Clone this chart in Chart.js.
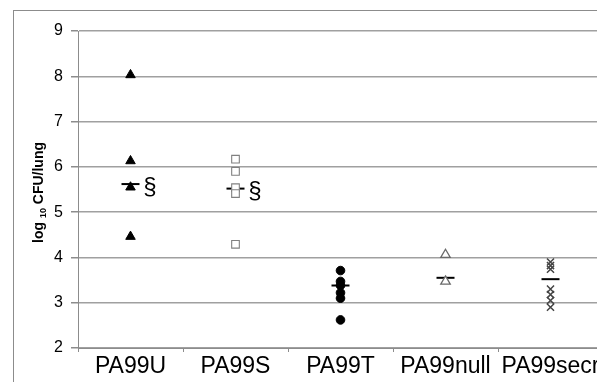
<!DOCTYPE html>
<html>
<head>
<meta charset="utf-8">
<script src="https://cdn.jsdelivr.net/npm/chart.js@4"></script>
<style>
html,body{margin:0;padding:0;background:#fff;overflow:hidden;width:597px;height:382px;}
canvas{display:block;}
</style>
</head>
<body>
<canvas id="c" width="625" height="382" style="width:625px;height:382px"></canvas>
<script>
// ---- data ----
const categories = ['PA99U', 'PA99S', 'PA99T', 'PA99null', 'PA99secr'];
const pa99U = [8.03, 6.13, 5.55, 4.46];
const pa99S = [6.17, 5.90, 5.54, 5.41, 4.29];
const pa99T = [3.71, 3.47, 3.38, 3.22, 3.10, 2.62];
const pa99null = [4.06, 3.47];
const pa99secr = [3.90, 3.82, 3.74, 3.30, 3.18, 3.05, 2.90];
const means = [5.62, 5.52, 3.38, 3.55, 3.52];
const notes = ['§', '§', '', '', ''];
const yTicks = [2, 3, 4, 5, 6, 7, 8, 9];
const yTitleParts = ['log ', '10', ' CFU/lung'];

const FONT = '"Liberation Sans", Arial, sans-serif';
const pts = (cat, arr) => arr.map(v => ({x: cat, y: v}));

const borderPlugin = {
  id: 'outerBorder',
  beforeDraw(chart) {
    const ctx = chart.ctx;
    ctx.save();
    ctx.strokeStyle = '#8c8c8c';
    ctx.lineWidth = 1;
    ctx.strokeRect(13.5, 10.5, 600, 420);
    ctx.restore();
  }
};

// y-axis title with a real subscript, centred on the y scale
const yTitlePlugin = {
  id: 'yTitle',
  afterDraw(chart) {
    const ys = chart.scales.y;
    const ctx = chart.ctx;
    const big = 'bold 14px ' + FONT, small = 'bold 9px ' + FONT;
    ctx.save();
    ctx.font = big;
    const w0 = ctx.measureText(yTitleParts[0]).width;
    const w2 = ctx.measureText(yTitleParts[2]).width;
    ctx.font = small;
    const w1 = ctx.measureText(yTitleParts[1]).width;
    const total = w0 + w1 + w2;
    const cy = (ys.top + ys.bottom) / 2 + 3;
    ctx.translate(43, cy);
    ctx.rotate(-Math.PI / 2);
    ctx.fillStyle = '#000';
    ctx.textBaseline = 'alphabetic';
    ctx.textAlign = 'left';
    let x = -total / 2;
    ctx.font = big; ctx.fillText(yTitleParts[0], x, 0); x += w0;
    ctx.font = small; ctx.fillText(yTitleParts[1], x, 3); x += w1;
    ctx.font = big; ctx.fillText(yTitleParts[2], x, 0);
    ctx.restore();
  }
};

const notesPlugin = {
  id: 'notes',
  afterDatasetsDraw(chart) {
    const ctx = chart.ctx;
    const xs = chart.scales.x, ys = chart.scales.y;
    ctx.save();
    ctx.fillStyle = '#000';
    ctx.font = '24px ' + FONT;
    ctx.textAlign = 'center';
    ctx.textBaseline = 'middle';
    notes.forEach((t, i) => {
      if (!t) return;
      ctx.fillText(t, xs.getPixelForValue(i) + 19.5, ys.getPixelForValue(means[i]) + 3);
    });
    ctx.restore();
  }
};

new Chart(document.getElementById('c'), {
  type: 'line',
  data: {
    labels: categories,
    datasets: [
      {data: pts(categories[0], pa99U), showLine: false, pointStyle: 'triangle', pointRadius: 5.5,
       backgroundColor: '#000', borderColor: '#000', borderWidth: 1},
      {data: pts(categories[1], pa99S), showLine: false, pointStyle: 'rect', pointRadius: 5.4,
       backgroundColor: '#fff', borderColor: '#808080', borderWidth: 1.1},
      {data: pts(categories[2], pa99T), showLine: false, pointStyle: 'circle', pointRadius: 4.3,
       backgroundColor: '#000', borderColor: '#000', borderWidth: 1},
      {data: pts(categories[3], pa99null), showLine: false, pointStyle: 'triangle', pointRadius: 5.5,
       backgroundColor: '#fff', borderColor: '#6a6a6a', borderWidth: 1.3},
      {data: pts(categories[4], pa99secr), showLine: false, pointStyle: 'crossRot', pointRadius: 5,
       backgroundColor: '#444', borderColor: '#444', borderWidth: 1.5},
      {data: means.map((v, i) => ({x: categories[i], y: v})), showLine: false, pointStyle: 'line',
       pointRadius: 9, backgroundColor: '#000', borderColor: '#000', borderWidth: 2}
    ]
  },
  options: {
    responsive: false,
    animation: false,
    events: [],
    layout: {padding: {left: 26, top: 31, right: 22, bottom: 0}},
    plugins: {legend: {display: false}, tooltip: {enabled: false}},
    scales: {
      x: {
        type: 'category',
        offset: true,
        afterFit(s) { s.height = 34; },
        grid: {display: true, offset: true, drawOnChartArea: false, drawTicks: true, tickLength: 4, color: '#8c8c8c'},
        border: {display: true, color: '#8c8c8c', width: 1},
        ticks: {color: '#000', font: {family: FONT, size: 23}, padding: 1,
                autoSkip: false, maxRotation: 0, minRotation: 0}
      },
      y: {
        min: 2, max: 9,
        afterFit(s) { s.width = 52; },
        afterBuildTicks(s) { s.ticks = yTicks.map(v => ({value: v})); },
        grid: {color: '#a0a0a0', lineWidth: 1.5, tickLength: 7, drawTicks: true, tickColor: '#8c8c8c'},
        border: {display: true, color: '#8c8c8c', width: 1},
        ticks: {color: '#000', font: {family: FONT, size: 16}, padding: 8},
        title: {display: false}
      }
    }
  },
  plugins: [borderPlugin, yTitlePlugin, notesPlugin]
});
</script>
</body>
</html>
